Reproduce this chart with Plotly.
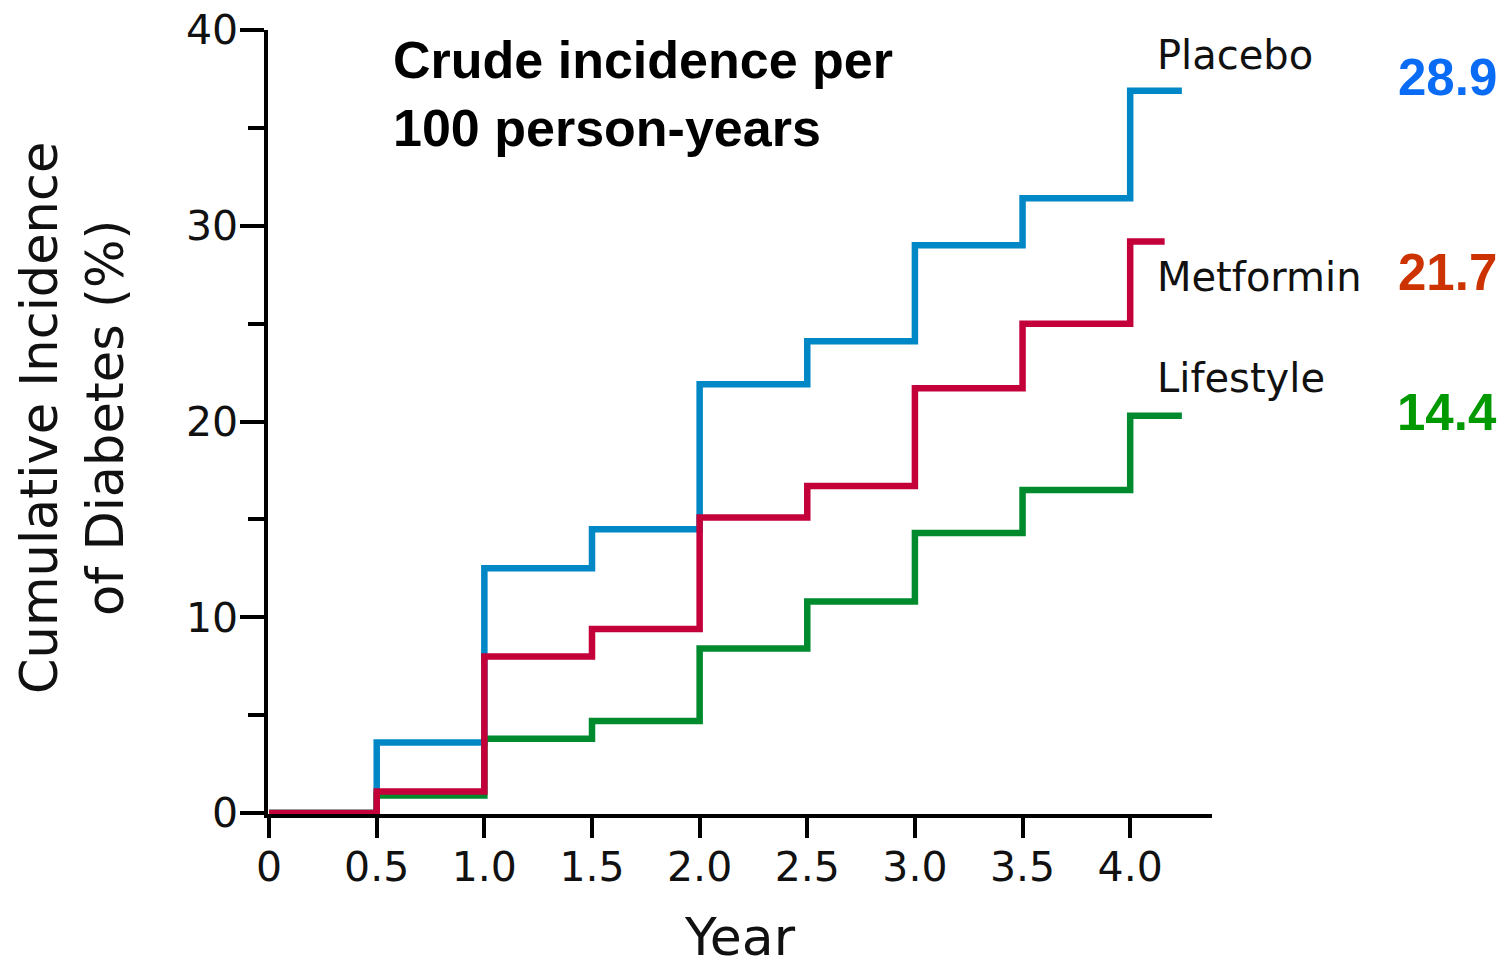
import plotly.graph_objects as go

# Cumulative incidence of diabetes (%) by study year
years = [0, 0.5, 1.0, 1.5, 2.0, 2.5, 3.0, 3.5, 4.0]
placebo = [0, 3.6, 12.5, 14.5, 21.9, 24.1, 29.0, 31.4, 36.9]
metformin = [0, 1.1, 8.0, 9.4, 15.1, 16.7, 21.7, 25.0, 29.2]
lifestyle = [0, 0.9, 3.8, 4.7, 8.4, 10.8, 14.3, 16.5, 20.3]

# follow-up end for each arm (last step extends to here)
end_year = {"Placebo": 4.24, "Metformin": 4.16, "Lifestyle": 4.24}

# crude incidence per 100 person-years
crude_rates = {"Placebo": "28.9", "Metformin": "21.7", "Lifestyle": "14.4"}

x_tickvals = [0, 0.5, 1.0, 1.5, 2.0, 2.5, 3.0, 3.5, 4.0]
x_ticktext = ["0", "0.5", "1.0", "1.5", "2.0", "2.5", "3.0", "3.5", "4.0"]
y_tickvals = [0, 10, 20, 30, 40]

line_colors = {"Placebo": "#0088c6", "Metformin": "#c4003a", "Lifestyle": "#008a2e"}
rate_colors = {"Placebo": "#0a6cf5", "Metformin": "#cc3300", "Lifestyle": "#009900"}

W, H = 1503, 972
L, R, T, B = 268, 291, 30, 158
PW, PH = W - L - R, H - T - B


def px_x(p):
    return (p - L) / PW


def px_y(p):
    return (H - B - p) / PH


fig = go.Figure()

series = [("Placebo", placebo), ("Lifestyle", lifestyle), ("Metformin", metformin)]
for name, vals in series:
    xs = years + [end_year[name]]
    ys = vals + [vals[-1]]
    fig.add_trace(go.Scatter(
        x=xs, y=ys, mode="lines", name=name,
        line=dict(shape="hv", color=line_colors[name], width=6.5),
        showlegend=False, hoverinfo="skip",
    ))

label_font = dict(family="DejaVu Sans", size=40, color="#111")
annotations = [
    dict(text="<b>Crude incidence per</b><br><b>100 person-years</b>",
         x=px_x(391), y=px_y(29), xanchor="left", yanchor="top", align="left",
         showarrow=False,
         font=dict(family="Liberation Sans, Arial", size=52, color="black"),
         xref="paper", yref="paper"),
    dict(text="Placebo", x=px_x(1155), y=px_y(55), xanchor="left", yanchor="middle",
         showarrow=False, font=label_font, xref="paper", yref="paper"),
    dict(text="Metformin", x=px_x(1155), y=px_y(277), xanchor="left", yanchor="middle",
         showarrow=False, font=label_font, xref="paper", yref="paper"),
    dict(text="Lifestyle", x=px_x(1155), y=px_y(378), xanchor="left", yanchor="middle",
         showarrow=False, font=label_font, xref="paper", yref="paper"),
    dict(text="Cumulative Incidence<br>of Diabetes (%)", x=px_x(72), y=px_y(418),
         xanchor="center", yanchor="middle", textangle=-90, showarrow=False,
         font=dict(family="DejaVu Sans", size=51, color="#111"),
         xref="paper", yref="paper"),
    dict(text="Year", x=px_x(740), y=px_y(937), xanchor="center", yanchor="middle",
         showarrow=False, font=dict(family="DejaVu Sans", size=52, color="#111"),
         xref="paper", yref="paper"),
]
rate_y = {"Placebo": 78, "Metformin": 272, "Lifestyle": 412}
for name in ["Placebo", "Metformin", "Lifestyle"]:
    annotations.append(dict(
        text=f"<b>{crude_rates[name]}</b>", x=px_x(1499), y=px_y(rate_y[name]),
        xanchor="right", yanchor="middle", showarrow=False,
        font=dict(family="Liberation Sans, Arial", size=51, color=rate_colors[name]),
        xref="paper", yref="paper"))

fig.update_layout(
    width=W, height=H,
    margin=dict(l=L, r=R, t=T, b=B, pad=0),
    paper_bgcolor="white", plot_bgcolor="white",
    annotations=annotations,
    xaxis=dict(
        range=[-0.005, 4.38], tickvals=x_tickvals, ticktext=x_ticktext,
        showline=True, linecolor="black", linewidth=3.5, automargin=False,
        ticks="outside", ticklen=20, tickwidth=3.5, tickcolor="black",
        showgrid=False, zeroline=False, ticklabelstandoff=-6,
        tickfont=dict(family="DejaVu Sans", size=41, color="#111"),
    ),
    yaxis=dict(
        range=[-0.05, 40], tickvals=y_tickvals,
        showline=True, linecolor="black", linewidth=3.5, automargin=False,
        ticks="outside", ticklen=24, tickwidth=3.5, tickcolor="black",
        showgrid=False, zeroline=False, ticklabelstandoff=-6,
        tickfont=dict(family="DejaVu Sans", size=41, color="#111"),
        minor=dict(dtick=5, ticks="outside", ticklen=16, tickwidth=3.5,
                   tickcolor="black", showgrid=False),
    ),
)

fig.write_html("out.html")
